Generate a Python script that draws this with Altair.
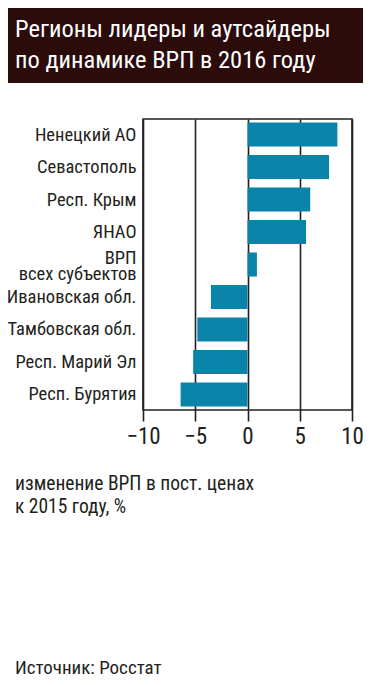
import altair as alt
import pandas as pd

regions = ["Ненецкий АО", "Севастополь", "Респ. Крым", "ЯНАО",
           "ВРП\nвсех субъектов", "Ивановская обл.", "Тамбовская обл.",
           "Респ. Марий Эл", "Респ. Бурятия"]
values = [8.6, 7.8, 6.0, 5.6, 0.9, -3.5, -4.8, -5.2, -6.4]
x_ticks = [-10, -5, 0, 5, 10]

title_lines = ["Регионы лидеры и аутсайдеры", "по динамике ВРП в 2016 году"]
note_lines = ["изменение ВРП в пост. ценах", "к 2015 году, %"]
source = "Источник:  Росстат"

FONT = "'Roboto Condensed', 'DejaVu Sans Condensed', sans-serif"
INK = "#231f20"
W, H = 209, 291
RP = 11

df = pd.DataFrame({"region": regions, "value": values})
one = pd.DataFrame({"a": [0]})

bars = alt.Chart(df).mark_bar(color="#0a83a8").encode(
    x=alt.X("value:Q",
            scale=alt.Scale(domain=[-10, 10], nice=False),
            axis=alt.Axis(values=x_ticks, title=None, grid=True,
                          gridColor=INK, gridWidth=1.6, domain=False,
                          tickColor=INK, tickWidth=1.6, tickSize=11,
                          labelFont=FONT, labelFontSize=23, labelColor=INK,
                          labelPadding=4, labelFlush=False)),
    y=alt.Y("region:N", sort=regions,
            scale=alt.Scale(paddingInner=0.26, paddingOuter=0.11),
            axis=alt.Axis(title=None, ticks=False, domain=False,
                          labelFont=FONT, labelFontSize=18.5, labelColor=INK,
                          labelPadding=7, labelLimit=200,
                          labelLineHeight=16,
                          labelOffset={"condition": {"test": "indexof(datum.label, '\\n') >= 0", "value": -7}, "value": 0},
                          labelExpr="split(datum.label, '\\n')")),
)

header = alt.Chart(one).mark_rect(color="#2b0c0b").encode(
    x=alt.value(-135), x2=alt.value(W + RP),
    y=alt.value(-111), y2=alt.value(-36),
)

def txt(text, y, size, color=INK):
    return alt.Chart(one).mark_text(
        text=text, align="left", baseline="alphabetic",
        font=FONT, fontSize=size, color=color,
    ).encode(x=alt.value(-128), y=alt.value(y))

layers = [header, bars,
          txt(title_lines[0], -82, 24.5, "white"),
          txt(title_lines[1], -51, 24.5, "white"),
          txt(note_lines[0], 371, 19.5),
          txt(note_lines[1], 394, 19.5),
          txt(source, 555, 19)]

chart = alt.layer(*layers).properties(
    width=W, height=H,
    autosize=alt.AutoSizeParams(type="none"),
    padding={"left": 135, "top": 111, "right": RP, "bottom": 267},
).configure_view(stroke=INK, strokeWidth=1.6)

chart.save("out.html", embed_options={"renderer": "svg", "actions": False})
